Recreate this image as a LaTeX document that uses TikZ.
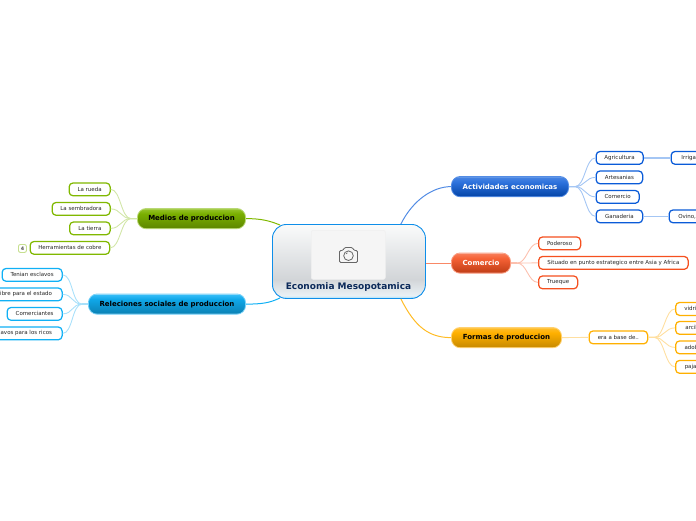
\documentclass[tikz,border=0pt]{standalone}
\usepackage{fontspec}
\setmainfont{DejaVu Sans}
\definecolor{cBlue}{HTML}{0A5BD8}\definecolor{lBlue}{HTML}{A4C6F4}
\definecolor{cRed}{HTML}{F5501F}\definecolor{lRed}{HTML}{FCC0AE}
\definecolor{cAmb}{HTML}{FFB000}\definecolor{lAmb}{HTML}{FFDFA0}
\definecolor{cGrn}{HTML}{80B800}\definecolor{lGrn}{HTML}{D2E6A8}
\definecolor{cCya}{HTML}{10B0F5}\definecolor{lCya}{HTML}{A8E0FA}
\definecolor{tTxt}{HTML}{0C2A5A}
\definecolor{gCen}{HTML}{D2D5D8}\definecolor{gLow}{HTML}{EAF1F5}\definecolor{gTop}{HTML}{FAFBFB}
\pgfdeclareverticalshading{glossBlue}{100bp}{color(0bp)=(lBlue!60!cBlue);color(25bp)=(lBlue!60!cBlue);color(29bp)=(cBlue!80!black);color(62bp)=(cBlue!85!white);color(73bp)=(cBlue!75!white);color(75bp)=(lBlue);color(100bp)=(lBlue)}
\pgfdeclareverticalshading{glossRed}{100bp}{color(0bp)=(lRed);color(25bp)=(lRed);color(29bp)=(cRed!80!black);color(62bp)=(cRed!90!white);color(73bp)=(cRed!75!white);color(75bp)=(lRed);color(100bp)=(lRed)}
\pgfdeclareverticalshading{glossAmb}{100bp}{color(0bp)=(lAmb);color(25bp)=(lAmb);color(29bp)=(cAmb!80!black);color(62bp)=(cAmb);color(73bp)=(cAmb!85!white);color(75bp)=(lAmb);color(100bp)=(lAmb)}
\pgfdeclareverticalshading{glossGrn}{100bp}{color(0bp)=(lGrn);color(25bp)=(lGrn);color(29bp)=(cGrn!75!black);color(62bp)=(cGrn!95!black);color(73bp)=(cGrn!85!white);color(75bp)=(lGrn);color(100bp)=(lGrn)}
\pgfdeclareverticalshading{glossCya}{100bp}{color(0bp)=(lCya);color(25bp)=(lCya);color(29bp)=(cCya!75!black);color(62bp)=(cCya!95!black);color(73bp)=(cCya!85!white);color(75bp)=(lCya);color(100bp)=(lCya)}
\pgfdeclareverticalshading{glossCen}{100bp}{color(0bp)=(cCya!40!white);color(25bp)=(cCya!40!white);color(27bp)=(gLow);color(38bp)=(gCen);color(75bp)=(gTop);color(100bp)=(gTop)}
\newcommand\kid[7]{\node[kidbox=#2,anchor=north west,minimum width={#5-#3-1},minimum height={#6-#4-.6}] (#1) at (#3,#4-.2) {#7};}
\newcommand\mainb[8]{\node[mainbox=#3,draw=#2,text=#8,anchor=north west,minimum width={#6-#4-.8},minimum height=20.4] (#1) at (#4,#5) {\raisebox{-.6pt}{#7}};}
\newcommand\fanR[3]{\draw[fanline=#3] (#1.east) -- ++(6,0) .. controls ++(10,0) and ([xshift=-10pt]#2.west) .. (#2.west);\draw[stem=#3] (#1.east) -- ++(6,0);}
\newcommand\fanL[3]{\draw[fanline=#3] (#1.west) -- ++(-6,0) .. controls ++(-10,0) and ([xshift=10pt]#2.east) .. (#2.east);\draw[stem=#3] (#1.west) -- ++(-6,0);}
\tikzset{
 kidbox/.style={draw=#1,line width=1.25pt,rounded corners=4pt,fill=white,inner sep=0pt,font=\fontsize{5.5}{6}\selectfont,text=black!85},
 mainbox/.style={shading=#1,shading angle=0,line width=.8pt,rounded corners=9pt,inner sep=0pt,font=\fontsize{7}{8}\selectfont\bfseries},
 fanline/.style={draw=#1,line width=.9pt},
 stem/.style={draw=#1,line width=1.6pt},
 branch/.style={draw=#1,line width=1pt},
}
\begin{document}
\begin{tikzpicture}[x=1pt,y=-1pt]
\useasboundingbox (0,0) rectangle (696,520);
\clip (0,0) rectangle (696,520);
% centre
\node[draw=cCya!60!cBlue,line width=.9pt,rounded corners=14pt,shading=glossCen,shading angle=0,anchor=north west,minimum width=153pt,minimum height=74pt] (cen) at (272,224) {};
\node[draw=black!6,fill=black!4,line width=.6pt,rounded corners=2pt,anchor=north west,minimum width=74pt,minimum height=49pt] (img) at (311,230) {};
\node[font=\fontsize{9}{10}\selectfont\bfseries,text=tTxt,inner sep=0pt] (ttl) at (348.5,287.5) {Economia Mesopotamica};
% camera
\draw[black!60,line width=.8pt,rounded corners=1.2pt] (339.5,250.5) -- (343,250.5) -- (344.5,247.5) -- (352.5,247.5) -- (354,250.5) -- (357.5,250.5) -- (357.5,262.5) -- (339.5,262.5) -- cycle;
\draw[black!60,line width=.8pt] (348.5,255.7) circle (4.8pt);
\draw[black!60,line width=.6pt] (346,254) -- (347.5,252.8);
% main topics
\mainb{act}{cBlue!70!white}{glossBlue}{451}{176}{569}{Actividades economicas}{white}
\mainb{com}{lRed!70!cRed}{glossRed}{451}{252.5}{511}{Comercio}{white}
\mainb{for}{lAmb!70!cAmb}{glossAmb}{451}{327}{562}{Formas de produccion}{black}
\mainb{med}{lGrn!70!cGrn}{glossGrn}{137}{208}{246}{Medios de produccion}{black}
\mainb{rel}{lCya!70!cCya}{glossCya}{88}{293.5}{246}{Releciones sociales de produccion}{black}
% kids
\kid{agr}{cBlue}{595.5}{151}{643.5}{164.5}{Agricultura}
\kid{art}{cBlue}{595.5}{170.5}{643}{184}{Artesanias}
\kid{cmc}{cBlue}{595.5}{190}{639.5}{203.5}{Comercio}
\kid{gan}{cBlue}{595.5}{209.5}{643}{223}{Ganaderia}
\kid{irr}{cBlue}{670.5}{151}{718}{164.5}{Irrigacion}
\kid{ovi}{cBlue}{668.5}{209.5}{705.5}{223}{Ovino,}
\kid{pod}{cRed}{538}{236.5}{581}{250}{Poderoso}
\kid{sit}{cRed}{538}{256}{688.5}{269.5}{Situado en punto estrategico entre Asia y Africa}
\kid{tru}{cRed}{538}{275.5}{578}{289}{Trueque}
\kid{era}{cAmb}{588.5}{330.5}{648}{344}{era a base de..}
\kid{vid}{cAmb}{675}{302}{709}{315.6}{vidrio}
\kid{arc}{cAmb}{675}{321}{712}{334.5}{arcilla}
\kid{ado}{cAmb}{675}{340.5}{711}{354}{adobe}
\kid{paj}{cAmb}{675}{360}{706}{373.5}{paja}
\kid{rue}{cGrn}{68.5}{182.5}{110.5}{196}{La rueda}
\kid{sem}{cGrn}{51.5}{202}{110.5}{215.5}{La sembradora}
\kid{tie}{cGrn}{69}{221.5}{110.5}{235}{La tierra}
\kid{her}{cGrn}{29.5}{241}{110}{254.5}{Herramientas de cobre}
\kid{ten}{cCya}{1.5}{268}{62.5}{281.5}{Tenian esclavos}
\kid{lib}{cCya}{-12}{287.5}{62.5}{301}{libre para el estado}
\kid{cmr}{cCya}{6.5}{307}{62.5}{320.5}{Comerciantes}
\kid{esc}{cCya}{-21}{326.5}{62.5}{340}{Esclavos para los ricos}
\node[draw=lGrn!85!cGrn,line width=.9pt,rounded corners=2pt,fill=white,anchor=north west,minimum width=8pt,minimum height=8pt,inner sep=0pt,font=\fontsize{4.8}{5}\selectfont\bfseries,text=black!70] (bad) at (18,244) {4};
% branches
\draw[branch=cBlue!70] ([xshift=-25pt]cen.north east) .. controls +(12,-24) and +(-18,0) .. (act.west);
\draw[branch=lRed!50!cRed] (cen.east |- com.west) -- (com.west);
\draw[branch=cAmb!85] ([xshift=-25pt]cen.south east) .. controls +(14,28) and +(-22,0) .. (for.west);
\draw[branch=cGrn] (med.east) .. controls +(16,0) and +(-10,-4) .. ([xshift=8pt,yshift=-1pt]cen.north west);
\draw[branch=cCya] (rel.east) .. controls +(16,0) and +(-10,5) .. ([xshift=8pt,yshift=1pt]cen.south west);
% fans
\fanR{act}{agr}{lBlue}\fanR{act}{art}{lBlue}\fanR{act}{cmc}{lBlue}\fanR{act}{gan}{lBlue}
\draw[stem=lBlue] (agr.east) -- (irr.west);
\draw[fanline=lBlue] (gan.east) -- (ovi.west);
\fanR{com}{pod}{lRed}\fanR{com}{sit}{lRed}\fanR{com}{tru}{lRed}
\draw[fanline=lAmb] (for.east) -- (era.west);
\fanR{era}{vid}{lAmb}\fanR{era}{arc}{lAmb}\fanR{era}{ado}{lAmb}\fanR{era}{paj}{lAmb}
\fanL{med}{rue}{lGrn}\fanL{med}{sem}{lGrn}\fanL{med}{tie}{lGrn}\fanL{med}{her}{lGrn}
\fanL{rel}{ten}{lCya}\fanL{rel}{lib}{lCya}\fanL{rel}{cmr}{lCya}\fanL{rel}{esc}{lCya}
\end{tikzpicture}
\end{document}
